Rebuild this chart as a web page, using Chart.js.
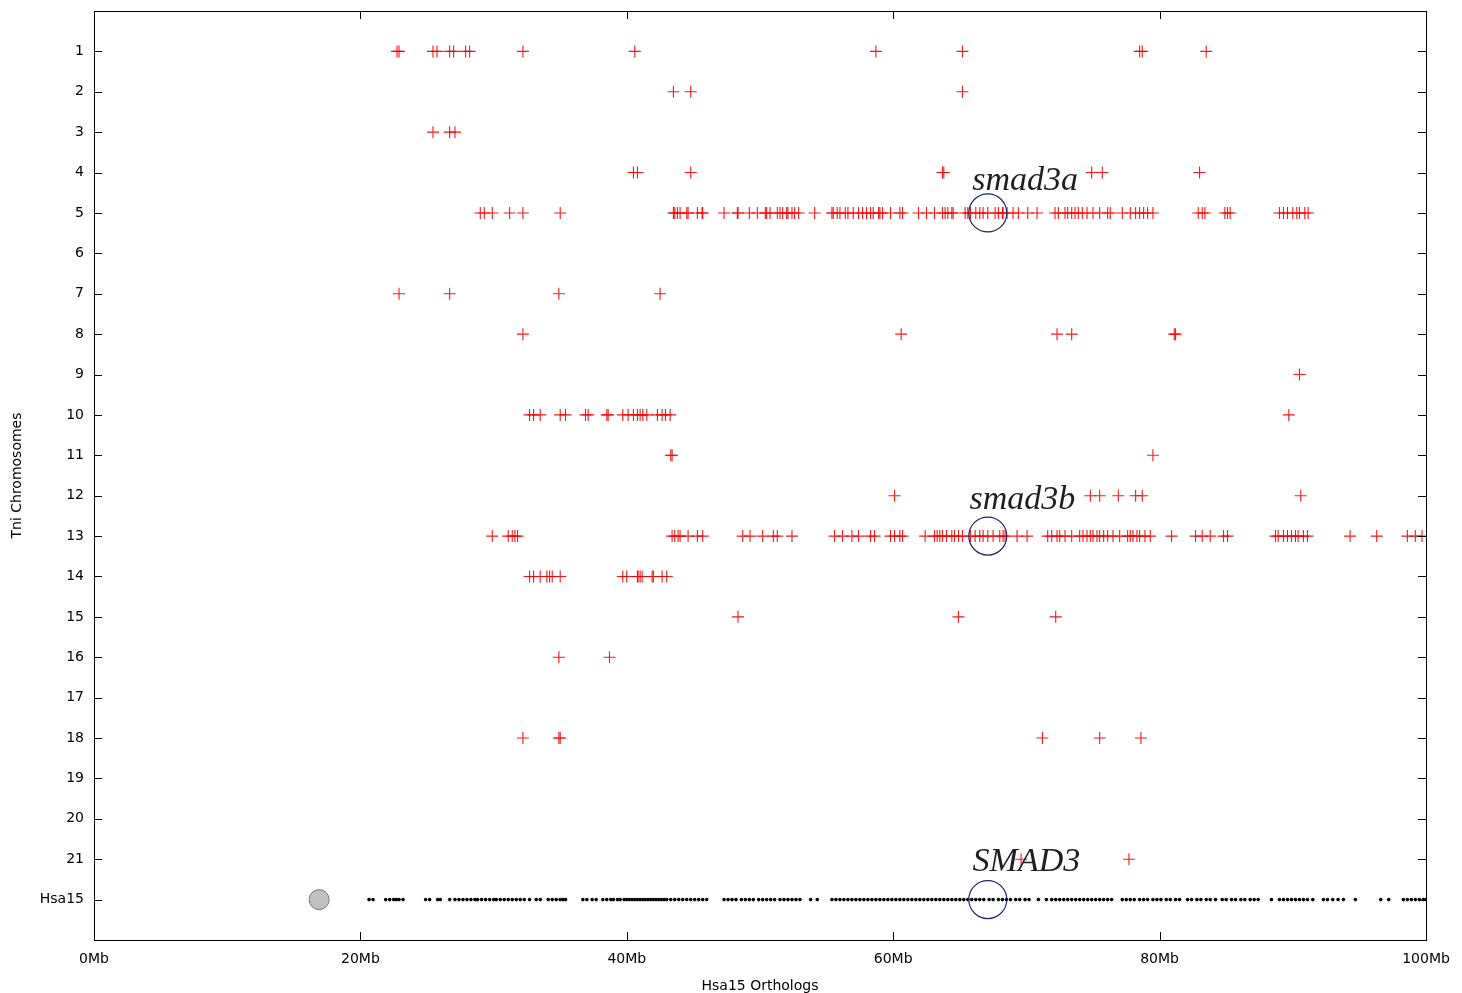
<!DOCTYPE html>
<html>
<head>
<meta charset="utf-8">
<title>Hsa15 Orthologs</title>
<script src="https://cdn.jsdelivr.net/npm/chart.js@4/dist/chart.umd.min.js"></script>
<style>
  html, body { margin: 0; padding: 0; background: #fff; }
  #wrap { width: 1462px; height: 993px; }
</style>
</head>
<body>
<div id="wrap"><canvas id="dotPlot" width="1462" height="993"></canvas></div>
<script>
'use strict';

// ***** DATA (positions in Mb along Hsa15) *****
let rowLabels = ['1','2','3','4','5','6','7','8','9','10','11','12','13','14','15','16','17','18','19','20','21','Hsa15'];
let xTicks = [0, 20, 40, 60, 80, 100];

let chr1 = [22.75, 22.9, 25.45, 25.75, 26.7, 27.0, 27.9, 28.2, 32.2, 40.6, 58.7, 65.2, 78.5, 78.7, 83.5];
let chr2 = [43.5, 44.8, 65.2];
let chr3 = [25.45, 26.7, 27.1];
let chr4 = [40.5, 40.8, 44.8, 63.7, 63.8, 74.9, 75.7, 83.0];
let chr5 = [29.0, 29.3, 29.9, 31.2, 32.2, 35.0, 43.5, 43.6, 43.8, 44.0, 44.5, 44.6, 45.3, 45.65, 45.7,
  47.3, 48.3, 48.35, 49.2, 49.8, 50.4, 50.5, 50.75, 51.3, 51.5, 51.7, 52.0, 52.1, 52.4, 52.6, 52.9,
  54.1, 55.4, 55.5, 55.8, 56.0, 56.4, 56.6, 57.0, 57.4, 57.7, 58.0, 58.3, 58.5, 58.9, 59.0, 59.2, 59.8, 60.5,
  60.7, 61.9, 62.5, 63.1, 63.7, 63.9, 64.1, 64.4, 64.5, 65.4, 65.6, 65.8, 66.2, 66.5, 66.75, 67.1, 67.65,
  67.9, 68.2, 68.25, 68.55, 69.0, 69.4, 70.1, 70.8, 72.15, 72.4, 72.9, 73.1, 73.4, 73.65, 73.9, 74.2,
  74.55, 75.0, 75.5, 76.1, 76.3, 77.2, 77.8, 78.2, 78.5, 78.8, 79.1, 79.5, 82.9, 83.2, 83.4, 84.9, 85.1,
  85.3, 89.0, 89.3, 89.6, 90.0, 90.3, 90.5, 90.9, 91.15];
let chr6 = [];
let chr7 = [22.9, 26.7, 34.9, 42.5];
let chr8 = [32.2, 60.6, 72.3, 73.4, 81.1, 81.2];
let chr9 = [90.5];
let chr10 = [32.7, 33.0, 33.5, 35.0, 35.4, 36.9, 37.1, 38.5, 38.6, 39.7, 40.1, 40.5, 40.8, 41.0, 41.2,
  41.5, 42.3, 42.65, 42.9, 43.25, 89.7];
let chr11 = [43.3, 43.4, 79.5];
let chr12 = [60.1, 74.8, 75.5, 76.9, 78.2, 78.7, 90.6];
let chr13 = [29.9, 31.1, 31.4, 31.6, 31.8, 43.4, 43.6, 43.85, 44.0, 44.6, 45.3, 45.7, 48.7, 49.25, 50.2,
  51.0, 51.3, 52.4, 55.6, 56.2, 56.9, 57.4, 58.3, 58.6, 59.8, 60.1, 60.5, 60.7, 62.4, 63.1, 63.3, 63.5,
  63.7, 64.0, 64.4, 64.6, 64.9, 65.2, 65.8, 66.15, 66.5, 66.75, 67.1, 67.5, 68.0, 68.25, 68.4, 69.3,
  70.05, 71.6, 71.9, 72.3, 72.5, 72.9, 73.4, 74.0, 74.25, 74.55, 74.8, 75.0, 75.3, 75.5, 75.8, 76.1,
  76.5, 77.0, 77.6, 77.8, 78.0, 78.3, 78.5, 78.9, 79.3, 80.9, 82.7, 83.2, 83.8, 84.8, 85.1, 88.7, 88.9,
  89.3, 89.6, 89.9, 90.2, 90.4, 90.8, 91.1, 94.3, 96.3, 98.6, 99.2, 99.7];
let chr14 = [32.7, 33.0, 33.5, 34.0, 34.2, 34.4, 35.0, 39.7, 40.0, 40.8, 40.85, 41.0, 41.15, 41.9, 42.0,
  42.65, 43.0];
let chr15 = [48.35, 64.9, 72.2];
let chr16 = [34.9, 38.7];
let chr17 = [];
let chr18 = [32.2, 34.9, 35.0, 71.2, 75.5, 78.6];
let chr19 = [];
let chr20 = [];
let chr21 = [69.6, 77.7];

let hsa15Genes = [20.65, 20.95, 21.9, 22.2, 22.5, 22.7, 22.9, 23.2, 24.9, 25.2, 25.8, 26.0,
  26.7, 27.1, 27.4, 27.7, 28.0, 28.3, 28.6, 28.8, 29.1, 29.4, 29.7, 30.0, 30.2, 30.5, 30.8, 31.1, 31.4,
  31.7, 32.0, 32.3, 32.7, 33.2, 33.5, 34.1, 34.4, 34.7, 35.0, 35.2, 35.4, 36.7, 37.0, 37.4, 37.7,
  38.2, 38.5, 38.8, 39.0, 39.3, 39.5, 39.8, 40.0, 40.2, 40.4, 40.6, 40.8, 41.0, 41.2, 41.4, 41.6, 41.8,
  42.0, 42.2, 42.4, 42.6, 42.8, 43.0, 43.3, 43.6, 43.9, 44.2, 44.5, 44.8, 45.1, 45.4, 45.7, 46.0,
  47.3, 47.6, 47.9, 48.2, 48.6, 48.9, 49.2, 49.5, 49.9, 50.2, 50.5, 50.8, 51.1, 51.5, 51.8, 52.1, 52.4,
  52.7, 53.0, 53.8, 54.3, 55.4, 55.7, 56.0, 56.3, 56.6, 56.9, 57.2, 57.5, 57.8, 58.1, 58.4, 58.7, 59.0,
  59.3, 59.6, 59.9, 60.2, 60.5, 60.8, 61.1, 61.4, 61.7, 62.0, 62.3, 62.6, 62.9, 63.2, 63.5, 63.8, 64.1,
  64.4, 64.7, 65.0, 65.3, 65.6, 65.9, 66.2, 66.5, 66.8, 67.2, 67.5, 67.9, 68.2, 68.5, 68.8, 69.2, 69.5,
  69.9, 70.2, 70.9, 71.5, 71.9, 72.2, 72.5, 72.8, 73.1, 73.4, 73.7, 74.0, 74.3, 74.6, 74.9, 75.2, 75.5,
  75.8, 76.1, 76.4, 77.2, 77.5, 77.8, 78.1, 78.5, 78.8, 79.1, 79.5, 79.8, 80.1, 80.5, 80.8, 81.2, 81.5,
  82.1, 82.4, 82.8, 83.1, 83.5, 83.8, 84.2, 84.7, 85.0, 85.4, 85.7, 86.1, 86.4, 86.8, 87.1, 87.4, 88.4,
  89.0, 89.3, 89.6, 89.9, 90.2, 90.5, 90.8, 91.1, 91.5, 92.3, 92.6, 93.0, 93.4, 93.8, 94.7, 96.6, 97.2,
  98.3, 98.6, 98.9, 99.2, 99.5, 99.8, 100];

// SMAD3 and its two orthologs
let smadPos = 67.1;
let smadRows = [5, 13, 22];
let smadNames = ['smad3a', 'smad3b', 'SMAD3'];
let smadLabelX = [69.9, 69.7, 70.0];
let smadLabelY = [4.2, 12.1, 21.06];
let centromere = [16.9];

let chrArrays = [chr1, chr2, chr3, chr4, chr5, chr6, chr7, chr8, chr9, chr10, chr11, chr12, chr13,
  chr14, chr15, chr16, chr17, chr18, chr19, chr20, chr21];

// ***** BUILD POINTS *****
let redPoints = [];
for (let i = 0; i < chrArrays.length; i++) {
  for (let j = 0; j < chrArrays[i].length; j++) {
    redPoints.push({ x: chrArrays[i][j], y: i + 1 });
  }
}
let hsaPoints = hsa15Genes.map(v => ({ x: v, y: 22 }));
let circlePoints = smadRows.map(r => ({ x: smadPos, y: r }));
let centPoints = centromere.map(v => ({ x: v, y: 22 }));

// ***** PLUGINS *****
// gnuplot style: border box + inward ticks on every side
const frameTicks = {
  id: 'frameTicks',
  afterDraw(chart) {
    const ctx = chart.ctx;
    const a = chart.chartArea;
    const xs = chart.scales.x;
    const ys = chart.scales.y;
    const len = 8;
    ctx.save();
    ctx.strokeStyle = '#000';
    ctx.lineWidth = 1;
    ctx.beginPath();
    for (let i = 1; i <= rowLabels.length; i++) {
      let py = Math.round(ys.getPixelForValue(i)) + 0.5;
      ctx.moveTo(a.left, py); ctx.lineTo(a.left + len, py);
      ctx.moveTo(a.right, py); ctx.lineTo(a.right - len, py);
    }
    xTicks.forEach(t => {
      let px = Math.round(xs.getPixelForValue(t)) + 0.5;
      ctx.moveTo(px, a.bottom); ctx.lineTo(px, a.bottom - len);
      ctx.moveTo(px, a.top); ctx.lineTo(px, a.top + len);
    });
    ctx.stroke();
    ctx.strokeRect(Math.round(a.left) + 0.5, Math.round(a.top) + 0.5,
      Math.round(a.right - a.left), Math.round(a.bottom - a.top));
    ctx.restore();
  }
};

const geneLabels = {
  id: 'geneLabels',
  afterDatasetsDraw(chart) {
    const ctx = chart.ctx;
    const xs = chart.scales.x;
    const ys = chart.scales.y;
    ctx.save();
    ctx.font = 'italic 34px "Liberation Serif", "DejaVu Serif", serif';
    ctx.fillStyle = '#1e1e1e';
    ctx.textAlign = 'center';
    ctx.textBaseline = 'middle';
    for (let i = 0; i < smadNames.length; i++) {
      ctx.fillText(smadNames[i], xs.getPixelForValue(smadLabelX[i]), ys.getPixelForValue(smadLabelY[i]));
    }
    ctx.restore();
  }
};

// ***** CHART *****
Chart.defaults.font.family = '"DejaVu Sans", sans-serif';
Chart.defaults.font.size = 14;
Chart.defaults.color = '#000';

const canvasElem = document.getElementById('dotPlot');

new Chart(canvasElem, {
  type: 'scatter',
  data: {
    datasets: [
      {
        label: 'orthologs',
        data: circlePoints,
        pointStyle: 'circle',
        pointRadius: 19,
        borderColor: '#23236e',
        backgroundColor: 'rgba(0,0,0,0)',
        borderWidth: 1.2
      },
      {
        label: 'centromere',
        data: centPoints,
        pointStyle: 'circle',
        pointRadius: 10,
        borderColor: '#777',
        backgroundColor: '#c0c0c0',
        borderWidth: 1
      },
      {
        label: 'Tni',
        data: redPoints,
        pointStyle: 'cross',
        pointRadius: 6,
        borderColor: 'rgba(245,0,0,0.9)',
        borderWidth: 1.1
      },
      {
        label: 'Hsa15',
        data: hsaPoints,
        pointStyle: 'circle',
        pointRadius: 1.8,
        borderWidth: 0,
        backgroundColor: '#000'
      }
    ]
  },
  options: {
    responsive: false,
    animation: false,
    events: [],
    layout: { autoPadding: false, padding: { top: 11, right: 36, left: 0, bottom: 0 } },
    plugins: {
      legend: { display: false },
      tooltip: { enabled: false }
    },
    scales: {
      x: {
        type: 'linear',
        min: 0,
        max: 100,
        afterBuildTicks: scale => { scale.ticks = xTicks.map(v => ({ value: v })); },
        ticks: {
          padding: 11,
          maxRotation: 0,
          callback: v => v + 'Mb'
        },
        grid: { display: false, drawTicks: false },
        border: { display: false },
        title: { display: true, text: 'Hsa15 Orthologs', padding: { top: 0, bottom: -2 } },
        afterFit: scale => {
          scale.height = 53;
          scale.paddingLeft = 0;
          scale.paddingRight = 0;
        }
      },
      y: {
        type: 'linear',
        reverse: true,
        min: 0,
        max: 23,
        afterBuildTicks: scale => { scale.ticks = rowLabels.map((l, i) => ({ value: i + 1 })); },
        ticks: {
          padding: 10,
          autoSkip: false,
          callback: v => rowLabels[v - 1]
        },
        grid: { display: false, drawTicks: false },
        border: { display: false },
        title: { display: true, text: 'Tni Chromosomes', padding: { top: 9, bottom: 0 } },
        afterFit: scale => {
          scale.width = 94;
          scale.paddingTop = 0;
          scale.paddingBottom = 0;
        }
      }
    }
  },
  plugins: [frameTicks, geneLabels]
});
</script>
</body>
</html>
